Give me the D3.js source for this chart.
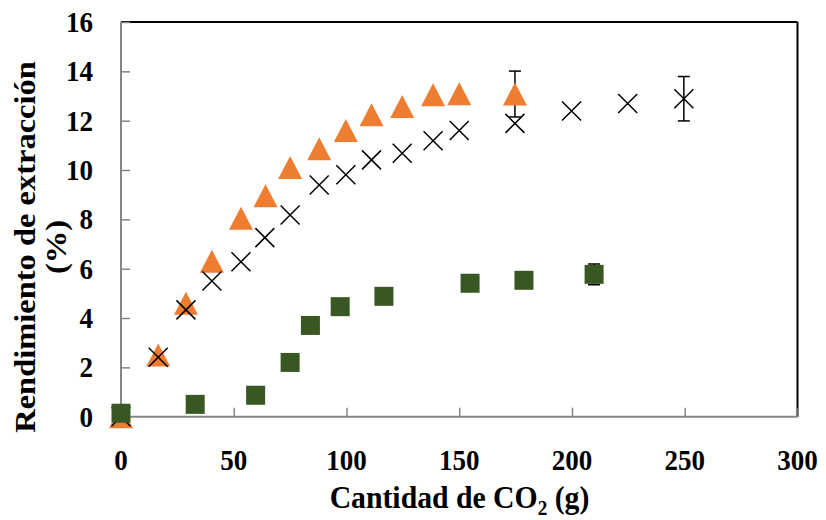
<!DOCTYPE html>
<html>
<head>
<meta charset="utf-8">
<script src="https://cdn.jsdelivr.net/npm/d3@7"></script>
<style>
  html, body { margin: 0; padding: 0; background: #fff; }
  svg { display: block; }
  text { font-family: "Liberation Serif", "Times New Roman", serif; font-weight: bold; fill: #000; }
</style>
</head>
<body>
<svg id="chart" width="826" height="520"></svg>
<script>
// Extraction yield (%) versus amount of CO2 (g), three runs
const xTicks = [0, 50, 100, 150, 200, 250, 300];
const yTicks = [0, 2, 4, 6, 8, 10, 12, 14, 16];

// Run A (orange triangles)
const triX = [0, 16.5, 28.8, 40.3, 53.2, 64.1, 75, 87.9, 99.7, 111.1, 124.7, 138.4, 150, 174.7];
const triY = [0, 2.5, 4.6, 6.3, 8.04, 8.96, 10.1, 10.86, 11.6, 12.24, 12.57, 13.05, 13.09, 13.08];
const triErr = [0, 0, 0, 0, 0, 0, 0, 0, 0, 0, 0, 0, 0, 0.93];

// Run B (black crosses)
const crossX = [0, 16.5, 28.8, 40.3, 53.2, 63.8, 75, 87.9, 99.7, 111.1, 124.7, 138.4, 150, 174.7, 199.8, 224.7, 249.6];
const crossY = [0, 2.41, 4.33, 5.5, 6.28, 7.26, 8.18, 9.39, 9.81, 10.41, 10.68, 11.19, 11.6, 11.89, 12.39, 12.7, 12.89];
const crossErr = [0, 0, 0, 0, 0, 0, 0, 0, 0, 0, 0, 0, 0, 0, 0, 0, 0.9];

// Run C (green squares)
const sqX = [0, 32.9, 59.7, 75, 84, 97.2, 116.6, 154.8, 178.7, 209.8];
const sqY = [0.14, 0.5, 0.87, 2.2, 3.7, 4.46, 4.88, 5.41, 5.53, 5.77];
const sqErr = [0, 0, 0, 0, 0, 0, 0, 0, 0, 0.42];

const svg = d3.select("#chart");
const x = d3.scaleLinear().domain([0, 300]).range([121, 797.5]);
const y = d3.scaleLinear().domain([0, 16]).range([416.7, 22]);

const gray = "#868686";
const sx = 0.915; // narrow letterforms

// plot frame: top/right black, left/bottom gray axes
svg.append("line").attr("x1", x(0)).attr("x2", x(300)).attr("y1", y(16)).attr("y2", y(16))
  .attr("stroke", "#000").attr("stroke-width", 2);
svg.append("line").attr("x1", x(300)).attr("x2", x(300)).attr("y1", y(16)).attr("y2", y(0))
  .attr("stroke", "#000").attr("stroke-width", 2);

// y axis with inward ticks
const yAxis = svg.append("g").attr("transform", `translate(${x(0)},0)`)
  .call(d3.axisRight(y).tickValues(yTicks).tickSize(9).tickFormat(""));
yAxis.select(".domain").attr("stroke", gray).attr("stroke-width", 2).attr("d", `M0,${y(0)}V${y(16)}`);
yAxis.selectAll(".tick line").attr("stroke", gray).attr("stroke-width", 1.5);

// x axis with inward ticks
const xAxis = svg.append("g").attr("transform", `translate(0,${y(0)})`)
  .call(d3.axisTop(x).tickValues(xTicks).tickSize(9).tickFormat(""));
xAxis.select(".domain").attr("stroke", gray).attr("stroke-width", 2).attr("d", `M${x(0)},0H${x(300)}`);
xAxis.selectAll(".tick line").attr("stroke", gray).attr("stroke-width", 1.5);

// tick labels
svg.append("g").selectAll("text").data(yTicks).join("text")
  .attr("transform", d => `translate(93,${y(d)}) scale(${sx},1)`)
  .attr("dy", "0.34em")
  .attr("text-anchor", "end").attr("font-size", 29.5).text(d => d);
svg.append("g").selectAll("text").data(xTicks).join("text")
  .attr("transform", d => `translate(${x(d)},470) scale(${sx},1)`)
  .attr("text-anchor", "middle").attr("font-size", 29.5).text(d => d);

// axis titles
const xt = svg.append("text").attr("transform", `translate(459.5,508) scale(${sx},1)`)
  .attr("text-anchor", "middle").attr("font-size", 32.5);
xt.append("tspan").text("Cantidad de CO");
xt.append("tspan").attr("font-size", 21).attr("dy", 7).text("2");
xt.append("tspan").attr("dy", -7).text(" (g)");

const yt = svg.append("text").attr("transform", `translate(35,247) scale(${sx},1) rotate(-90)`)
  .attr("text-anchor", "middle").attr("font-size", 32.5);
yt.append("tspan").attr("x", 0).attr("y", 0).text("Rendimiento de extracción");
yt.append("tspan").attr("x", 0).attr("y", 34).text("(%)");

// error bars
function errorBars(xs, ys, es) {
  const g = svg.append("g").attr("stroke", "#000").attr("stroke-width", 1.5);
  xs.forEach((xv, i) => {
    if (!es[i]) return;
    const cx = x(xv), y1 = y(ys[i] + es[i]), y2 = y(ys[i] - es[i]);
    g.append("line").attr("x1", cx).attr("x2", cx).attr("y1", y1).attr("y2", y2);
    g.append("line").attr("x1", cx - 6).attr("x2", cx + 6).attr("y1", y1).attr("y2", y1);
    g.append("line").attr("x1", cx - 6).attr("x2", cx + 6).attr("y1", y2).attr("y2", y2);
  });
}

// triangles
errorBars(triX, triY, triErr);
svg.append("g").selectAll("path").data(triX).join("path")
  .attr("transform", (d, i) => `translate(${x(d)},${y(triY[i])})`)
  .attr("d", "M0,-11.5L12,11.5L-12,11.5Z")
  .attr("fill", "#ED7D31");

// crosses
errorBars(crossX, crossY, crossErr);
svg.append("g").selectAll("path").data(crossX).join("path")
  .attr("transform", (d, i) => `translate(${x(d)},${y(crossY[i])})`)
  .attr("d", "M-9.5,-9.5L9.5,9.5M-9.5,9.5L9.5,-9.5")
  .attr("stroke", "#000").attr("stroke-width", 1.5).attr("fill", "none");

// squares
errorBars(sqX, sqY, sqErr);
svg.append("g").selectAll("rect").data(sqX).join("rect")
  .attr("x", d => x(d) - 9.5)
  .attr("y", (d, i) => y(sqY[i]) - 9.5)
  .attr("width", 19).attr("height", 19)
  .attr("fill", "#385723");
</script>
</body>
</html>
